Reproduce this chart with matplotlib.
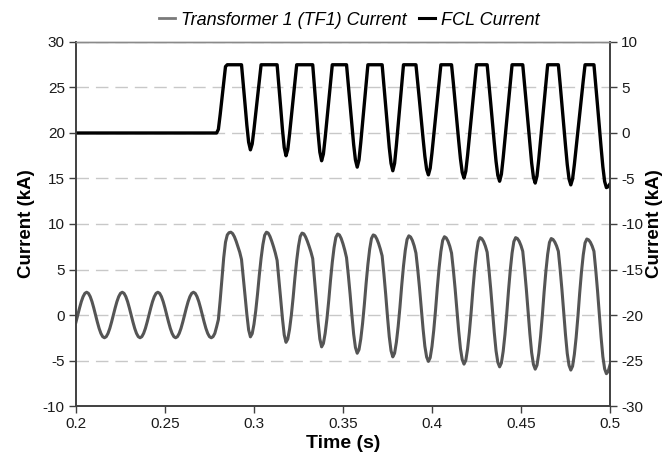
import numpy as np
import matplotlib
matplotlib.use('Agg')
import matplotlib.pyplot as plt
from matplotlib.lines import Line2D

plt.rcParams['font.family'] = ['Liberation Sans', 'DejaVu Sans']
plt.rcParams['axes.unicode_minus'] = False

# waveform samples, 1 ms apart, starting at 0.200 s
t_start = 0.200
t_step = 0.001

# Transformer 1 (TF1) current, kA (left axis)
tf1_current = [
    -0.77, 0, 0.77, 1.47, 2.02, 2.38, 2.5, 2.38, 2.02, 1.47,
    0.77, 0, -0.77, -1.47, -2.02, -2.38, -2.5, -2.38, -2.02, -1.47,
    -0.77, 0, 0.77, 1.47, 2.02, 2.38, 2.5, 2.38, 2.02, 1.47,
    0.77, 0, -0.77, -1.47, -2.02, -2.38, -2.5, -2.38, -2.02, -1.47,
    -0.77, 0, 0.77, 1.47, 2.02, 2.38, 2.5, 2.38, 2.02, 1.47,
    0.77, 0, -0.77, -1.47, -2.02, -2.38, -2.5, -2.38, -2.02, -1.47,
    -0.77, 0, 0.77, 1.47, 2.02, 2.38, 2.5, 2.38, 2.02, 1.47,
    0.77, 0, -0.77, -1.47, -2.02, -2.38, -2.5, -2.38, -2.02, -1.3,
    -0.5, 1.6, 4.0, 6.3, 8.0, 8.8, 9.05, 9.1, 8.95, 8.6,
    8.1, 7.5, 6.9, 6.1, 4.15, 2.1, 0.07, -1.64, -2.4, -2.05,
    -1.02, 0.48, 2.32, 4.39, 6.23, 7.72, 8.76, 9.1, 9.0, 8.63,
    8.1, 7.49, 6.81, 6.0, 3.93, 1.77, -0.39, -2.19, -3.0, -2.64,
    -1.56, 0.0, 1.92, 4.08, 6.0, 7.56, 8.64, 9.0, 8.92, 8.58,
    8.1, 7.54, 6.93, 6.2, 3.97, 1.64, -0.69, -2.63, -3.5, -3.13,
    -2.01, -0.4, 1.58, 3.82, 5.8, 7.41, 8.53, 8.9, 8.8, 8.41,
    7.83, 7.13, 6.3, 4.41, 2.31, 0.0, -2.1, -3.57, -4.2, -3.81,
    -2.64, -0.95, 1.13, 3.47, 5.55, 7.24, 8.41, 8.8, 8.71, 8.36,
    7.86, 7.24, 6.5, 4.5, 2.28, -0.16, -2.38, -3.93, -4.6, -4.2,
    -3.0, -1.27, 0.85, 3.25, 5.38, 7.1, 8.3, 8.7, 8.57, 8.19,
    7.6, 6.8, 5.02, 2.99, 0.73, -1.53, -3.43, -4.62, -5.1, -4.69,
    -3.46, -1.67, 0.52, 2.98, 5.18, 6.96, 8.19, 8.6, 8.47, 8.11,
    7.56, 6.8, 4.97, 2.9, 0.58, -1.74, -3.69, -4.91, -5.4, -4.98,
    -3.73, -1.92, 0.3, 2.8, 5.03, 6.83, 8.08, 8.5, 8.39, 8.07,
    7.57, 6.9, 5.01, 2.87, 0.47, -1.92, -3.94, -5.2, -5.7, -5.27,
    -4.0, -2.15, 0.12, 2.68, 4.95, 6.8, 8.07, 8.5, 8.4, 8.1,
    7.63, 7.0, 5.06, 2.86, 0.4, -2.06, -4.14, -5.43, -5.95, -5.52,
    -4.23, -2.36, -0.07, 2.52, 4.81, 6.68, 7.97, 8.4, 8.3, 8.02,
    7.59, 7.0, 5.04, 2.82, 0.34, -2.13, -4.22, -5.53, -6.05, -5.62,
    -4.32, -2.45, -0.15, 2.45, 4.75, 6.62, 7.92, 8.35, 8.26, 7.99,
    7.57, 7.0, 4.98, 2.7, 0.14, -2.41, -4.57, -5.91, -6.45, -6.2,
    -5.5,
]

# FCL current, kA (right axis)
fcl_current = [0.0] * 80 + [
    0.4, 2.0, 3.8, 5.6, 7.3, 7.5, 7.5, 7.5, 7.5, 7.5,
    7.5, 7.5, 7.5, 7.5, 5.35, 3.11, 0.86, -1.01, -1.85, -1.2,
    0.39, 2.17, 3.95, 5.72, 7.5, 7.5, 7.5, 7.5, 7.5, 7.5,
    7.5, 7.5, 7.5, 7.5, 5.2, 2.8, 0.4, -1.6, -2.5, -1.8,
    -0.1, 1.8, 3.7, 5.6, 7.5, 7.5, 7.5, 7.5, 7.5, 7.5,
    7.5, 7.5, 7.5, 7.5, 5.07, 2.54, 0.01, -2.1, -3.05, -2.31,
    -0.52, 1.49, 3.49, 5.5, 7.5, 7.5, 7.5, 7.5, 7.5, 7.5,
    7.5, 7.5, 7.5, 5.36, 3.11, 0.86, -1.27, -2.96, -3.75, -2.96,
    -1.05, 1.09, 3.23, 5.36, 7.5, 7.5, 7.5, 7.5, 7.5, 7.5,
    7.5, 7.5, 7.5, 5.29, 2.96, 0.63, -1.59, -3.33, -4.15, -3.33,
    -1.35, 0.86, 3.07, 5.29, 7.5, 7.5, 7.5, 7.5, 7.5, 7.5,
    7.5, 7.5, 5.56, 3.51, 1.45, -0.61, -2.54, -3.99, -4.6, -3.87,
    -2.18, -0.24, 1.69, 3.63, 5.56, 7.5, 7.5, 7.5, 7.5, 7.5,
    7.5, 7.5, 5.51, 3.39, 1.28, -0.84, -2.83, -4.33, -4.95, -4.2,
    -2.46, -0.47, 1.52, 3.52, 5.51, 7.5, 7.5, 7.5, 7.5, 7.5,
    7.5, 7.5, 5.45, 3.28, 1.1, -1.08, -3.12, -4.66, -5.3, -4.53,
    -2.74, -0.69, 1.36, 3.4, 5.45, 7.5, 7.5, 7.5, 7.5, 7.5,
    7.5, 7.5, 5.42, 3.21, 1.0, -1.21, -3.29, -4.85, -5.5, -4.72,
    -2.9, -0.82, 1.26, 3.34, 5.42, 7.5, 7.5, 7.5, 7.5, 7.5,
    7.5, 7.5, 5.39, 3.14, 0.9, -1.34, -3.46, -5.04, -5.7, -5.04,
    -3.46, -1.61, 0.24, 2.09, 3.94, 5.78, 7.5, 7.5, 7.5, 7.5,
    7.5, 7.5, 5.34, 3.05, 0.75, -1.54, -3.7, -5.32, -6.0, -5.9,
    -5.6,
]

x_ticks = [0.2, 0.25, 0.3, 0.35, 0.4, 0.45, 0.5]
x_tick_labels = ['0.2', '0.25', '0.3', '0.35', '0.4', '0.45', '0.5']
left_ticks = [-10, -5, 0, 5, 10, 15, 20, 25, 30]
right_ticks = [-30, -25, -20, -15, -10, -5, 0, 5, 10]

tf1_color = '#555555'
fcl_color = '#000000'
axis_color = '#404040'

time_s = t_start + t_step * np.arange(len(tf1_current))

fig = plt.figure(figsize=(6.7, 4.61), dpi=100)
ax = fig.add_axes([0.1134, 0.1193, 0.797, 0.7896])
ax2 = ax.twinx()

ax.plot(time_s, tf1_current, color=tf1_color, lw=2.2, solid_joinstyle='round')
ax2.plot(time_s, fcl_current, color=fcl_color, lw=2.4, solid_joinstyle='round')

ax.set_xlim(0.2, 0.5)
ax.set_ylim(-10, 30)
ax2.set_ylim(-30, 10)
ax.set_xticks(x_ticks)
ax.set_xticklabels(x_tick_labels)
ax.set_yticks(left_ticks)
ax2.set_yticks(right_ticks)

ax.set_axisbelow(True)
ax.yaxis.grid(True, linestyle=(0, (9, 5)), color='#c8c8c8', lw=1.0)

for a in (ax, ax2):
    for side in ('left', 'right', 'bottom'):
        a.spines[side].set_color(axis_color)
        a.spines[side].set_linewidth(1.2)
    a.spines['top'].set_color('#8a8a8a')
    a.spines['top'].set_linewidth(1.0)
    a.tick_params(direction='out', length=5, width=1.0, color=axis_color,
                  labelsize=11, labelcolor='#1a1a1a', pad=3)

ax.set_xlabel('Time (s)', fontsize=14, fontweight='bold', labelpad=3)
ax.set_ylabel('Current (kA)', fontsize=13.5, fontweight='bold', labelpad=6)
ax2.set_ylabel('Current (kA)', fontsize=13.5, fontweight='bold',
               rotation=90, va='bottom')
ax2.yaxis.set_label_coords(1.1, 0.5)

handles = [Line2D([], [], color='#7a7a7a', lw=2.0),
           Line2D([], [], color=fcl_color, lw=2.2)]
fig.legend(handles, ['Transformer 1 (TF1) Current', 'FCL Current'],
           loc='upper center', bbox_to_anchor=(0.521, 1.01), ncol=2,
           frameon=False, handlelength=0.9, handletextpad=0.3,
           columnspacing=0.7, prop={'size': 13, 'style': 'italic'})

fig.savefig('out.png', dpi=100)
